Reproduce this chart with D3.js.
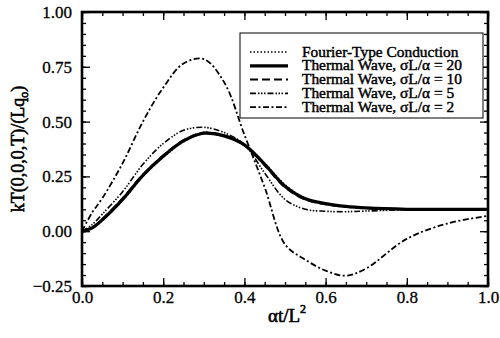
<!DOCTYPE html>
<html>
<head>
<meta charset="utf-8">
<script src="https://cdn.jsdelivr.net/npm/d3@7"></script>
<style>
  body { margin: 0; background: #fff; }
</style>
</head>
<body>
<div id="chart"></div>
<script>
// x positions (alpha t / L^2) and the five curves
const xs = [0, 0.025, 0.05, 0.1, 0.15, 0.2, 0.25, 0.3, 0.35, 0.4, 0.45, 0.5, 0.55, 0.6, 0.65, 0.7, 0.8, 0.9, 1.0];
const fourier = [0, 0.013, 0.048, 0.14, 0.25, 0.338, 0.408, 0.445, 0.432, 0.392, 0.31, 0.212, 0.15, 0.126, 0.113, 0.106, 0.1, 0.1, 0.1];
const wave20  = [0, 0.015, 0.052, 0.145, 0.255, 0.342, 0.412, 0.447, 0.435, 0.394, 0.305, 0.205, 0.148, 0.126, 0.113, 0.106, 0.1, 0.1, 0.1];
const wave10  = [0, 0.016, 0.055, 0.15, 0.258, 0.345, 0.415, 0.45, 0.437, 0.394, 0.3, 0.2, 0.144, 0.123, 0.111, 0.105, 0.1, 0.1, 0.1];
const wave5   = [0, 0.03, 0.078, 0.18, 0.305, 0.4, 0.46, 0.474, 0.45, 0.395, 0.265, 0.145, 0.1, 0.091, 0.089, 0.092, 0.098, 0.1, 0.1];
const wave2   = [0, 0.085, 0.15, 0.31, 0.5, 0.655, 0.765, 0.785, 0.68, 0.44, 0.2, -0.06, -0.13, -0.18, -0.203, -0.17, -0.035, 0.035, 0.07];

const xTicks = [0, 0.2, 0.4, 0.6, 0.8, 1.0];
const yTicks = [-0.25, 0, 0.25, 0.5, 0.75, 1.0];

const series = [
  { name: "Fourier-Type Conduction", values: fourier, width: 1.6, dash: "1.5,2" },
  { name: "Thermal Wave, σL/α = 20", values: wave20, width: 3.2, dash: null },
  { name: "Thermal Wave, σL/α = 10", values: wave10, width: 2, dash: "8,4" },
  { name: "Thermal Wave, σL/α = 5", values: wave5, width: 1.6, dash: "6,2,1.5,1.5,1.5,1.5,1.5,2" },
  { name: "Thermal Wave, σL/α = 2", values: wave2, width: 1.8, dash: "6,2.5,2,2.5" }
];

const FONT = "Liberation Serif";
const W = 500, H = 338;
const margin = { top: 12, right: 12, bottom: 52, left: 82 };
const iw = W - margin.left - margin.right, ih = H - margin.top - margin.bottom;

const svg = d3.select("#chart").append("svg").attr("width", W).attr("height", H)
  .attr("font-family", FONT);
const g = svg.append("g").attr("transform", `translate(${margin.left},${margin.top})`);

const x = d3.scaleLinear().domain([0, 1]).range([0, iw]);
const y = d3.scaleLinear().domain([-0.25, 1]).range([ih, 0]);

const minorX = d3.range(0, 1.0001, 0.05);
const minorY = d3.range(-0.25, 1.0001, 0.05);

// inward ticks on all four sides
function tickAxis(axis, vals, size) {
  return axis.tickValues(vals).tickSizeInner(-size).tickSizeOuter(0).tickFormat("");
}
g.append("g").attr("transform", `translate(0,${ih})`).call(tickAxis(d3.axisBottom(x), minorX, 4));
g.append("g").call(tickAxis(d3.axisTop(x), minorX, 4));
g.append("g").call(tickAxis(d3.axisLeft(y), minorY, 4));
g.append("g").attr("transform", `translate(${iw},0)`).call(tickAxis(d3.axisRight(y), minorY, 4));

const xAxis = g.append("g").attr("transform", `translate(0,${ih})`)
  .call(d3.axisBottom(x).tickValues(xTicks).tickSizeInner(-8).tickSizeOuter(0).tickPadding(17).tickFormat(d3.format(".1f")));
g.append("g").call(d3.axisTop(x).tickValues(xTicks).tickSizeInner(-8).tickSizeOuter(0).tickFormat(""));
const yAxis = g.append("g")
  .call(d3.axisLeft(y).tickValues(yTicks).tickSizeInner(-8).tickSizeOuter(0).tickPadding(10).tickFormat(d3.format(".2f")));
g.append("g").attr("transform", `translate(${iw},0)`)
  .call(d3.axisRight(y).tickValues(yTicks).tickSizeInner(-8).tickSizeOuter(0).tickFormat(""));

g.selectAll(".domain").remove();
g.selectAll("g").attr("font-family", FONT).attr("font-size", 17);
g.selectAll(".tick line").attr("stroke", "#000").attr("stroke-width", 1.3);
g.selectAll(".tick text").attr("stroke", "#000").attr("stroke-width", 0.3);
xAxis.selectAll("text").attr("dy", "0");

// curves
const line = d3.line()
  .x((d, i) => x(xs[i]))
  .y(d => y(d))
  .curve(d3.curveCatmullRom.alpha(0.5));

g.selectAll("path.curve").data(series).enter().append("path")
  .attr("class", "curve")
  .attr("d", d => line(d.values))
  .attr("fill", "none")
  .attr("stroke", "#000")
  .attr("stroke-width", d => d.width)
  .attr("stroke-dasharray", d => d.dash);

// frame
g.append("rect").attr("width", iw).attr("height", ih)
  .attr("fill", "none").attr("stroke", "#000").attr("stroke-width", 2.6);

// legend (bold serif is faked with a thin stroke)
const lg = svg.append("g").attr("transform", "translate(240,33)");
lg.append("rect").attr("width", 243).attr("height", 85)
  .attr("fill", "#fff").attr("stroke", "#000").attr("stroke-width", 1);
series.forEach((s, i) => {
  const yy = 19 + i * 13.8;
  lg.append("line").attr("x1", 10).attr("x2", 48).attr("y1", yy).attr("y2", yy)
    .attr("stroke", "#000").attr("stroke-width", s.width).attr("stroke-dasharray", s.dash);
  lg.append("text").attr("x", 62).attr("y", yy + 4.5)
    .attr("font-family", FONT).attr("font-size", 15.4)
    .attr("stroke", "#000").attr("stroke-width", 0.45)
    .text(s.name);
});

// axis titles
svg.append("text")
  .attr("transform", `translate(24,${margin.top + ih / 2}) rotate(-90)`)
  .attr("text-anchor", "middle")
  .attr("font-family", FONT).attr("font-size", 18)
  .attr("stroke", "#000").attr("stroke-width", 0.6)
  .html('kT(0,0,0,T)/(Lq<tspan font-size="12" dy="4">o</tspan><tspan dy="-4">)</tspan>');

svg.append("text")
  .attr("x", 287).attr("y", 322)
  .attr("text-anchor", "middle")
  .attr("font-family", FONT).attr("font-size", 19)
  .attr("stroke", "#000").attr("stroke-width", 0.6)
  .html('αt/L<tspan font-size="12" dy="-9">2</tspan>');
</script>
</body>
</html>
